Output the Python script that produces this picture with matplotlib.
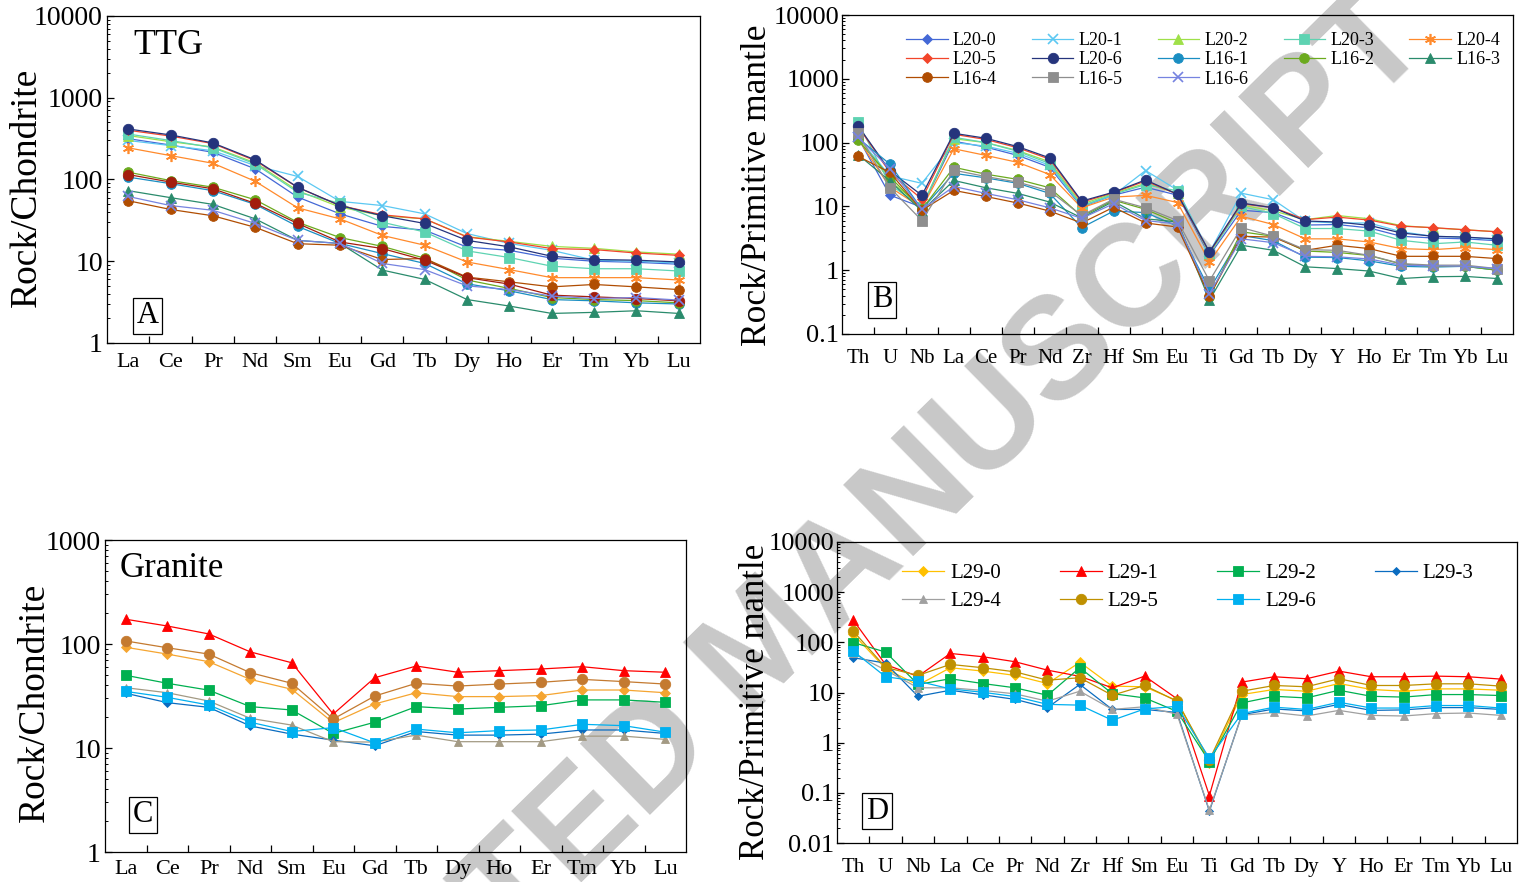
import numpy as np
import matplotlib
matplotlib.use("Agg")
import matplotlib.pyplot as plt
from matplotlib.ticker import LogLocator, NullFormatter, FixedLocator

plt.rcParams["font.family"] = ["Liberation Serif", "DejaVu Serif"]
plt.rcParams["mathtext.fontset"] = "stix"

# ---------------------------------------------------------------- categories
ree = ["La", "Ce", "Pr", "Nd", "Sm", "Eu", "Gd", "Tb", "Dy", "Ho", "Er", "Tm", "Yb", "Lu"]
spider = ["Th", "U", "Nb", "La", "Ce", "Pr", "Nd", "Zr", "Hf", "Sm", "Eu", "Ti",
          "Gd", "Tb", "Dy", "Y", "Ho", "Er", "Tm", "Yb", "Lu"]

ttg_samples = ["L20-0", "L20-1", "L20-2", "L20-3", "L20-4", "L20-5", "L20-6",
               "L16-1", "L16-2", "L16-3", "L16-4", "L16-5", "L16-6"]
granite_samples = ["L29-0", "L29-1", "L29-2", "L29-3", "L29-4", "L29-5", "L29-6"]

# ---------------------------------------------------------------- TTG, chondrite-normalised REE
ttg_ree = {
    "L20-0": [316, 264, 215, 135, 61, 38, 26.7, 24, 14.9, 13.6, 10.9, 10, 9.7, 9.2],
    "L20-1": [300, 260, 225, 148, 109, 54, 48, 38, 21.8, 16.5, 13.6, 10.3, 10, 9.5],
    "L20-2": [345, 290, 250, 160, 73, 46, 36, 33, 20, 17.5, 15.2, 14.4, 13, 12.2],
    "L20-3": [360, 300, 245, 155, 70, 51, 30, 22.8, 13.4, 11.1, 8.7, 8.1, 8.1, 7.6],
    "L20-4": [244, 196, 158, 95, 45, 33, 20.7, 15.7, 9.8, 7.9, 6.3, 6.3, 6.3, 5.9],
    "L20-5": [400, 340, 275, 170, 80, 48, 37, 33, 19.8, 17.2, 14.3, 13.9, 12.6, 11.8],
    "L20-6": [415, 351, 280, 174, 80.5, 48, 36, 29, 18, 15, 11.5, 10.5, 10.3, 9.8],
    "L16-1": [107, 89, 73, 49.6, 26.7, 16.5, 12.4, 9.4, 5.3, 4.35, 3.4, 3.28, 3.1, 3.0],
    "L16-2": [123, 97, 80.5, 56.5, 30, 19.5, 15.2, 10.9, 5.9, 4.65, 3.6, 3.4, 3.3, 3.1],
    "L16-3": [73, 60, 49.6, 33, 18, 16.5, 7.8, 6.0, 3.4, 2.83, 2.3, 2.37, 2.48, 2.3],
    "L16-4": [55, 43, 36, 26, 16.4, 15.7, 10.5, 10.8, 6.4, 5.6, 4.86, 5.2, 4.86, 4.5],
    "L16-5": [115, 93, 77, 51, 29, 17.2, 14.3, 10.3, 6.3, 5.25, 3.85, 3.67, 3.5, 3.28],
    "L16-6": [62, 48, 42, 29, 18, 16.5, 9.4, 7.9, 5.0, 4.5, 3.75, 3.5, 3.6, 3.35],
}

# ---------------------------------------------------------------- TTG, primitive-mantle-normalised
ttg_pm = {
    "L20-0": [120, 15, 9.7, 105, 85, 63, 41, 9.8, 15, 20, 15, 1.7, 8.7, 8, 5.1, 5.2, 4.6, 3.4, 3.2, 3.1, 2.9],
    "L20-1": [121, 30, 23, 100, 88, 68, 44, 10, 15, 36.5, 18, 1.9, 16.1, 12.7, 5.8, 5.5, 5.5, 4.0, 3.4, 3.3, 3.0],
    "L20-2": [125, 25, 10, 115, 100, 75, 50, 10.8, 16, 23, 16, 1.8, 10.5, 8.5, 6.2, 7.2, 6.4, 5.0, 4.6, 4.3, 4.0],
    "L20-3": [208, 22, 9.7, 121, 100, 73, 47, 10.2, 15.5, 22, 17.5, 1.8, 10, 7.7, 4.5, 4.5, 4.1, 2.94, 2.6, 2.77, 2.46],
    "L20-4": [115, 20, 9.5, 80, 63, 49, 31.6, 9.5, 14, 14.9, 11.5, 1.35, 7, 5.2, 3.1, 3.1, 2.77, 2.18, 2.1, 2.26, 2.1],
    "L20-5": [180, 34, 13, 135, 112, 83, 55, 11.6, 16.5, 25, 15.5, 1.9, 11, 9.6, 6.2, 6.8, 6.1, 4.9, 4.65, 4.3, 4.0],
    "L20-6": [184, 36, 14.9, 140, 117, 86.5, 57.6, 12.1, 16.7, 26, 15.5, 1.93, 11.3, 9.5, 5.9, 5.7, 5.05, 3.83, 3.4, 3.3, 3.1],
    "L16-1": [118, 46, 9, 33, 28, 23, 16, 4.65, 8.45, 8, 4.9, 0.5, 3.5, 2.9, 1.6, 1.58, 1.4, 1.15, 1.12, 1.15, 1.0],
    "L16-2": [110, 29, 9, 41, 32, 26.5, 19.6, 7, 12.5, 9, 5.5, 0.38, 4.0, 3.4, 2.0, 1.9, 1.7, 1.25, 1.15, 1.15, 1.0],
    "L16-3": [65, 25, 8.5, 25.5, 19.6, 16, 11.7, 6.6, 12, 6.4, 5.7, 0.34, 2.46, 2.05, 1.13, 1.06, 0.97, 0.74, 0.79, 0.8, 0.74],
    "L16-4": [61, 34, 8.7, 17.8, 14.3, 11.3, 8.45, 5.5, 9.7, 5.5, 4.75, 0.39, 3.4, 3.3, 2.05, 2.46, 2.18, 1.65, 1.65, 1.65, 1.52],
    "L16-5": [140, 19.6, 6.0, 37, 29.4, 24, 17.4, 7.2, 13, 9.5, 6, 0.68, 4.65, 3.4, 2.1, 2.05, 1.71, 1.27, 1.2, 1.2, 1.06],
    "L16-6": [121, 39, 9, 20.5, 16, 12.7, 9.5, 6.5, 11, 6, 5.3, 0.43, 3.1, 2.7, 1.65, 1.62, 1.5, 1.2, 1.17, 1.15, 1.06],
}

# ---------------------------------------------------------------- granite, chondrite-normalised REE
granite_ree = {
    "L29-0": [93, 80, 67.6, 45.7, 36.7, 17.5, 26.5, 34, 31.2, 31.2, 31.9, 36.1, 36.1, 34],
    "L29-1": [173, 149, 125, 84, 66, 21.2, 47.4, 61.4, 53.5, 55.4, 57.5, 60.5, 55.4, 53.5],
    "L29-2": [50, 41.9, 36, 25, 23.2, 13.8, 17.7, 25, 23.7, 24.6, 25.5, 29, 29, 27.5],
    "L29-3": [33.6, 27.3, 24.6, 16.3, 13.6, 11.9, 10.5, 14.4, 13.3, 13.3, 13.6, 14.9, 14.9, 13.8],
    "L29-4": [38, 34, 28.3, 19.3, 16.6, 11.5, 11.4, 13.3, 11.5, 11.5, 11.5, 13, 13, 12.1],
    "L29-5": [107, 92, 80, 53, 41.9, 19, 31.6, 41.9, 39.4, 41.2, 42.8, 45.7, 43.5, 41.2],
    "L29-6": [35, 30.7, 25.9, 17.7, 14.4, 15.7, 11.2, 15.2, 14, 14.7, 14.9, 16.9, 16.4, 14.2],
}

# ---------------------------------------------------------------- granite, primitive-mantle-normalised
granite_pm = {
    "L29-0": [146, 30, 14, 31.2, 26.7, 21.9, 15.1, 40, 13.4, 13, 6.9, 0.40, 9.1, 11.5, 10.6, 15.1, 11.5, 10.6, 11.8, 11.8, 11.1],
    "L29-1": [279, 36, 21, 60, 51.7, 41, 27.9, 21, 12.4, 21.2, 7.5, 0.088, 16.1, 20.6, 18.8, 26.7, 20.6, 20.6, 21.2, 20.6, 18.5],
    "L29-2": [99, 64, 14.5, 18.8, 15.1, 12.4, 8.8, 31.2, 9.5, 7.8, 4.2, 0.42, 6.2, 8.4, 7.8, 11.1, 8.4, 8.1, 9.1, 9.1, 8.7],
    "L29-3": [49.4, 38.5, 8.4, 11.1, 9.0, 7.3, 5.0, 14.5, 4.6, 4.6, 4.0, 0.043, 3.6, 4.7, 4.3, 5.8, 4.4, 4.5, 5.0, 5.0, 4.6],
    "L29-4": [60, 28, 12.4, 12.4, 11, 9.4, 6.7, 10.6, 4.6, 5.2, 3.7, 0.045, 3.5, 4.0, 3.4, 4.4, 3.5, 3.4, 3.8, 3.9, 3.5],
    "L29-5": [168, 31.6, 21.9, 36.3, 31.2, 25.8, 17.6, 19.7, 8.8, 13.8, 6.7, 0.45, 10.6, 13.8, 13, 18.8, 13.8, 13.8, 14.9, 14.9, 13.4],
    "L29-6": [67, 20.6, 16.8, 11.8, 10.1, 8.3, 5.8, 5.6, 2.8, 4.7, 5.3, 0.49, 3.8, 5.1, 4.6, 6.4, 4.9, 4.9, 5.5, 5.5, 4.9],
}

# ---------------------------------------------------------------- marker styles
asterisk = (6, 2, 0)
ttg_style = {
    "L20-0": ("D", "#4468D6", 5.5),
    "L20-1": ("x", "#5CC8F2", 7.5),
    "L20-2": ("^", "#9FE048", 7),
    "L20-3": ("s", "#5ED3B2", 7),
    "L20-4": (asterisk, "#FF8A2C", 8),
    "L20-5": ("D", "#F2452A", 5.5),
    "L20-6": ("o", "#25347C", 7.5),
    "L16-1": ("o", "#1A8EC2", 7),
    "L16-2": ("o", "#6BAA1E", 7),
    "L16-3": ("^", "#2A8B6C", 7),
    "L16-4": ("o", "#B04D02", 7),
    "L16-5": ("s", "#8E8E8E", 7),
    "L16-6": ("x", "#7683E0", 7.5),
}
# in the REE diagram sample L16-5 is plotted with dark red circles
ttg_ree_style = dict(ttg_style)
ttg_ree_style["L16-5"] = ("o", "#A31E0E", 7.5)

granite_style_c = {
    "L29-0": ("D", "#F5A531", 5.5),
    "L29-1": ("^", "#FF0000", 7),
    "L29-2": ("s", "#00B050", 7),
    "L29-3": ("D", "#0A6CC0", 4.5),
    "L29-4": ("^", "#A39A84", 6),
    "L29-5": ("o", "#C47A30", 7.5),
    "L29-6": ("s", "#00B0F0", 7),
}
granite_style_d = {
    "L29-0": ("D", "#FFC000", 5.5),
    "L29-1": ("^", "#FF0000", 7),
    "L29-2": ("s", "#00B050", 7),
    "L29-3": ("D", "#0A6CC0", 4.5),
    "L29-4": ("^", "#A0A0A0", 6),
    "L29-5": ("o", "#BF9000", 7.5),
    "L29-6": ("s", "#00B0F0", 7),
}

W, H = 1533, 882
fig = plt.figure(figsize=(W / 100, H / 100), dpi=100)


def px_axes(left, top, right, bottom):
    return fig.add_axes([left / W, 1 - bottom / H, (right - left) / W, (bottom - top) / H])


def setup(ax, cats, ylo, yhi, xfs, yfs, xpad, ypad):
    n = len(cats)
    ax.set_yscale("log")
    ax.set_xlim(0.5, n + 0.5)
    ax.set_ylim(ylo, yhi)
    ax.set_facecolor("none")
    decades = [10.0 ** k for k in range(int(np.log10(ylo)), int(np.log10(yhi)) + 1)]
    ax.yaxis.set_major_locator(FixedLocator(decades))
    ax.set_yticklabels([("%g" % d) for d in decades], fontsize=yfs)
    ax.yaxis.set_minor_locator(LogLocator(base=10, subs=np.arange(2, 10)))
    ax.yaxis.set_minor_formatter(NullFormatter())
    ax.set_xticks(np.arange(1.5, n, 1.0))
    ax.set_xticklabels([])
    ax.set_xticks(np.arange(1, n + 1), minor=True)
    ax.set_xticklabels(cats, minor=True, fontsize=xfs)
    ax.tick_params(axis="x", which="major", direction="in", length=5, width=0.9)
    ax.tick_params(axis="x", which="minor", length=0, pad=xpad)
    ax.tick_params(axis="y", which="major", direction="in", length=5, width=0.9, pad=ypad)
    ax.tick_params(axis="y", which="minor", direction="in", length=2.5, width=0.7)
    for s in ax.spines.values():
        s.set_linewidth(0.9)


def draw(ax, order, values, styles, lw=0.9):
    handles = {}
    x = np.arange(1, len(next(iter(values.values()))) + 1)
    for name in order:
        m, c, ms = styles[name]
        mew = 1.2 if m in ("x", asterisk) else 0.6
        h, = ax.plot(x, values[name], color=c, lw=lw, marker=m, ms=ms,
                     mfc=c, mec=c, mew=mew, label=name)
        handles[name] = h
    return handles


def panel_letter(ax, letter, xf, yf):
    ax.text(xf, yf, letter, transform=ax.transAxes, fontsize=22, ha="center", va="center",
            bbox=dict(boxstyle="square,pad=0.12", fc="white", ec="black", lw=0.9))


# ---------------------------------------------------------------- watermark (behind the panels)
fig.text(0.5, 0.265, "ACCEPTED MANUSCRIPT", fontsize=104, fontweight="bold",
         family="Liberation Sans", color="#C8C8C8", rotation=44.5,
         ha="center", va="center", zorder=-5)

# ---------------------------------------------------------------- A: TTG REE
axA = px_axes(107, 16, 700, 343)
setup(axA, ree, 1, 10000, 16, 20, 7, 3)
draw(axA, ttg_samples, ttg_ree, ttg_ree_style)
axA.text(0.044, 0.91, "TTG", transform=axA.transAxes, fontsize=26, ha="left", va="center")
panel_letter(axA, "A", 0.068, 0.083)

# ---------------------------------------------------------------- B: TTG spider
axB = px_axes(842, 15, 1513, 334)
setup(axB, spider, 0.1, 10000, 15, 19, 11, 2)
hB = draw(axB, ttg_samples, ttg_pm, ttg_style)
panel_letter(axB, "B", 0.06, 0.107)
idx = [0, 5, 10, 1, 6, 11, 2, 7, 12, 3, 8, 4, 9]
axB.legend([hB[ttg_samples[i]] for i in idx], [ttg_samples[i] for i in idx],
           ncol=5, loc="upper left", bbox_to_anchor=(0.09, 0.957), frameon=False,
           fontsize=13, handlelength=2.3, handletextpad=0.3, columnspacing=1.93,
           labelspacing=0.12, borderaxespad=0, borderpad=0.2)

# ---------------------------------------------------------------- C: granite REE
axC = px_axes(105, 540, 686, 852)
setup(axC, ree, 1, 1000, 16, 20, 6, 3)
draw(axC, granite_samples, granite_ree, granite_style_c)
axC.text(0.026, 0.91, "Granite", transform=axC.transAxes, fontsize=25, ha="left", va="center")
panel_letter(axC, "C", 0.065, 0.119)

# ---------------------------------------------------------------- D: granite spider
axD = px_axes(837, 542, 1517, 843)
setup(axD, spider, 0.01, 10000, 15, 19, 11, 2)
hD = draw(axD, granite_samples, granite_pm, granite_style_d)
panel_letter(axD, "D", 0.059, 0.106)
idx = [0, 4, 1, 5, 2, 6, 3]
axD.legend([hD[granite_samples[i]] for i in idx], [granite_samples[i] for i in idx],
           ncol=4, loc="upper left", bbox_to_anchor=(0.09, 0.942), frameon=False,
           fontsize=15, handlelength=2.0, handletextpad=0.3, columnspacing=2.82,
           labelspacing=0.4, borderaxespad=0, borderpad=0.2)

# ---------------------------------------------------------------- axis titles
fig.text(27 / W, 1 - 187 / H, "Rock/Chondrite", rotation=90, fontsize=27, ha="center", va="center")
fig.text(757 / W, 1 - 185 / H, "Rock/Primitive mantle", rotation=90, fontsize=25.5, ha="center", va="center")
fig.text(35 / W, 1 - 702 / H, "Rock/Chondrite", rotation=90, fontsize=27, ha="center", va="center")
fig.text(755 / W, 1 - 702 / H, "Rock/Primitive mantle", rotation=90, fontsize=25, ha="center", va="center")

fig.savefig("out.png", dpi=100)
